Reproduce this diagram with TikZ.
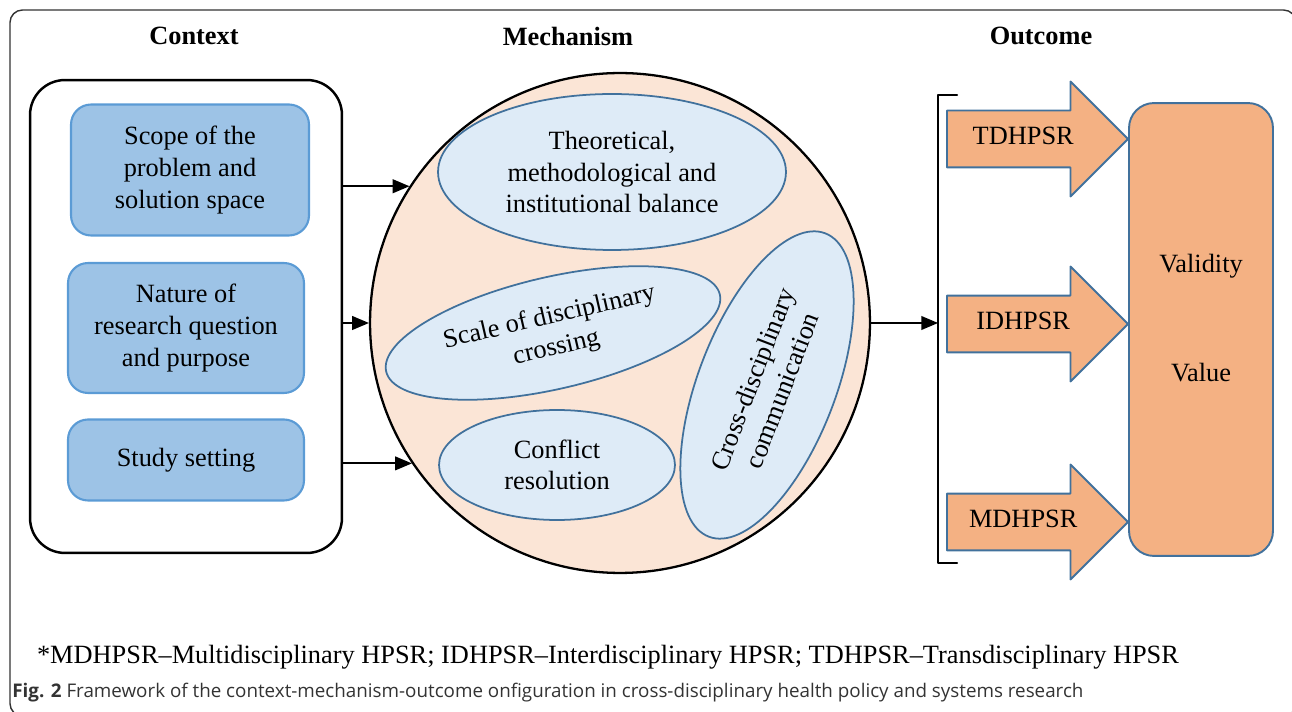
\documentclass[tikz,border=0pt]{standalone}
\usepackage{fontspec}
\setmainfont{Liberation Serif}
\newfontfamily\capfont{Open Sans}
\usetikzlibrary{arrows,shapes.geometric,shapes.arrows}

\definecolor{boxblue}{HTML}{9DC3E6}
\definecolor{boxedge}{HTML}{5B9BD5}
\definecolor{ovalblue}{HTML}{DEEBF7}
\definecolor{ovaledge}{HTML}{41719C}
\definecolor{mechfill}{HTML}{FBE5D6}
\definecolor{outfill}{HTML}{F4B183}

\tikzset{
  txt/.style={font=\fontsize{15}{18}\selectfont,align=center},
  head/.style={font=\bfseries\fontsize{15}{18}\selectfont},
  ctxbox/.style={txt,draw=boxedge,line width=1.2pt,fill=boxblue,rounded corners=0.4cm,minimum width=4.72cm},
  oval/.style={txt,ellipse,draw=ovaledge,line width=1pt,fill=ovalblue,inner sep=0pt},
  outarrow/.style={txt,single arrow,draw=ovaledge,fill=outfill,line width=1.1pt,anchor=tail,
    minimum height=3.62cm,single arrow head extend=0.58cm,single arrow tip angle=90,
    inner ysep=0.3cm,text height=0.36cm,text depth=0.14cm}
}

\begin{document}
\begin{tikzpicture}[line cap=round,line join=round,>=triangle 45,x=0.02cm,y=-0.02cm]
  \useasboundingbox (0,0) rectangle (1292,712);
  \draw[line width=0.8pt,draw=black!80,rounded corners=0.25cm] (10,10) rectangle (1296,716);

  \node[head] (hctx) at (194,36) {Context};
  \node[head] (hmech) at (568,36) {Mechanism};
  \node[head] (hout) at (1041,36) {Outcome};

  % context
  \node[draw,line width=1.4pt,rounded corners=0.7cm,minimum width=6.24cm,minimum height=9.46cm] (ctx) at (186,316.5) {};
  \node[ctxbox,minimum width=4.76cm,minimum height=2.62cm] (scope) at (190,170) {Scope of the\\problem and\\solution space};
  \node[ctxbox,minimum height=2.6cm] (nature) at (186,328) {Nature of\\research question\\and purpose};
  \node[ctxbox,minimum height=1.62cm] (setting) at (186,460) {Study setting};

  % mechanism
  \node[circle,draw,line width=1.3pt,fill=mechfill,minimum size=10cm] (mech) at (620,323) {};
  \node[oval,minimum width=6.96cm,minimum height=3.12cm] (balance) at (612,172) {Theoretical,\\methodological and\\institutional balance};
  \node[oval,minimum width=6.85cm,minimum height=2.24cm,rotate=13] (scale) at (553,333) {Scale of disciplinary\\crossing};
  \node[oval,minimum width=4.72cm,minimum height=2.2cm] (conflict) at (557,465) {Conflict\\resolution};
  \node[oval,minimum width=6.5cm,minimum height=2.75cm,rotate=69] (comm) at (767,385) {Cross-disciplinary\\communication};

  \draw[->,line width=1.2pt] (ctx.east |- mech.147) -- (mech.147);
  \draw[->,line width=1.2pt] (ctx.east |- mech.west) -- (mech.west);
  \draw[->,line width=1.2pt] (ctx.east |- mech.214) -- (mech.214);

  % outcome
  \draw[line width=1.2pt] (957,95) -- (938,95) -- (938,563) -- (957,563);
  \coordinate (brk) at (938,325);
  \draw[->,line width=1.2pt] (mech.east) -- (mech.east -| brk);

  \node[outarrow] (td) at (946,139) {TDHPSR};
  \node[outarrow] (id) at (946,324) {IDHPSR};
  \node[outarrow] (md) at (946,522) {MDHPSR};

  \node[draw=ovaledge,fill=outfill,line width=1.1pt,rounded corners=0.5cm,minimum width=2.88cm,minimum height=9.06cm] (res) at (1201,329.5) {};
  \node[txt] (validity) at (1201,266) {Validity};
  \node[txt] (value) at (1201,373) {Value};

  \node[txt] (note) at (608,657) {*MDHPSR--Multidisciplinary HPSR; IDHPSR--Interdisciplinary HPSR; TDHPSR--Transdisciplinary HPSR};
  \node[anchor=west,inner sep=0pt,text=black!80,font=\capfont\fontsize{10.7}{12}\selectfont] (cap) at (12,693) {\textbf{Fig. 2} Framework of the context-mechanism-outcome onfiguration in cross-disciplinary health policy and systems research};
\end{tikzpicture}
\end{document}
